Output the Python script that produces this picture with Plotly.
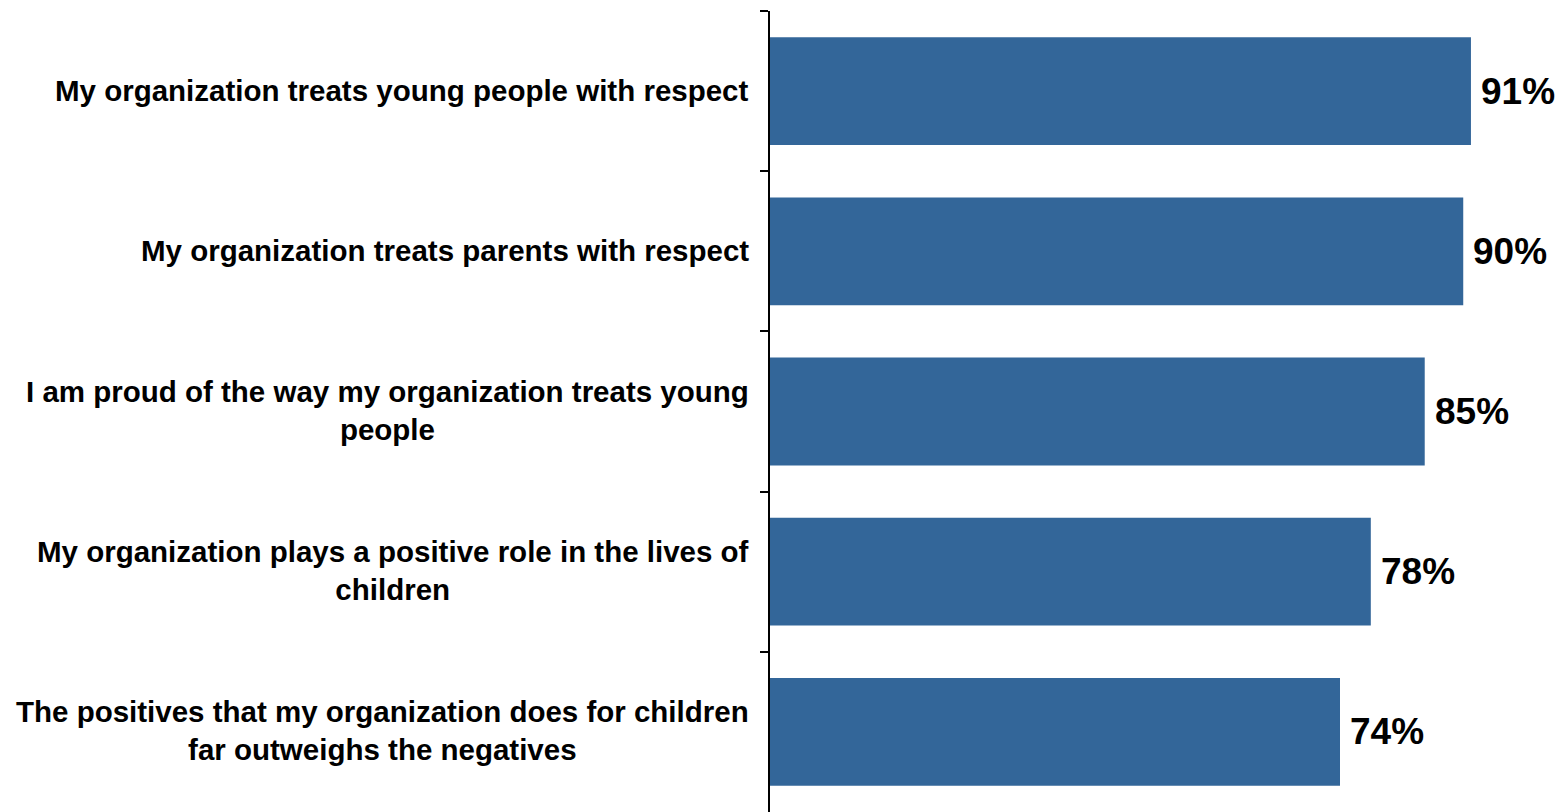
import plotly.graph_objects as go

categorias = [
    "My organization treats young people with respect",
    "My organization treats parents with respect",
    "I am proud of the way my organization treats young<br>people",
    "My organization plays a positive role in the lives of<br>children",
    "The positives that my organization does for children<br>far outweighs the negatives",
]
valores = [91, 90, 85, 78, 74]
rotulos = ["91%", "90%", "85%", "78%", "74%"]

fonte = "Liberation Sans, Arial, sans-serif"

fig = go.Figure(go.Bar(
    x=valores,
    y=categorias,
    orientation="h",
    marker=dict(color="#336699", line=dict(width=0)),
    hoverinfo="skip",
))

# rótulos das categorias (centralizados, alinhados à direita do eixo)
for cat in categorias:
    fig.add_annotation(
        x=0, xref="paper", y=cat, yref="y",
        text="<b>" + cat + "</b>",
        xanchor="right", xshift=-19, yshift=1, align="center",
        showarrow=False,
        font=dict(family=fonte, size=29.5, color="black"),
    )

# valores no fim das barras
for cat, v, r in zip(categorias, valores, rotulos):
    fig.add_annotation(
        x=v, y=cat, text="<b>" + r + "</b>",
        xanchor="left", xshift=8, showarrow=False,
        font=dict(family=fonte, size=37, color="black"),
    )

# a página tem 8px de margem no body, por isso o ajuste
fig.update_layout(
    width=1560, height=804,
    margin=dict(l=762, r=0, t=3, b=0),
    plot_bgcolor="white", paper_bgcolor="white",
    bargap=0.327,
    showlegend=False,
)
fig.update_xaxes(range=[0, 103.6], visible=False, showgrid=False)
fig.update_yaxes(
    autorange="reversed",
    showticklabels=False,
    showline=True, linecolor="black", linewidth=2,
    ticks="outside", ticklen=8, tickwidth=2, tickcolor="black",
    tickson="boundaries",
    showgrid=False, zeroline=False,
)

fig.write_html("out.html")
